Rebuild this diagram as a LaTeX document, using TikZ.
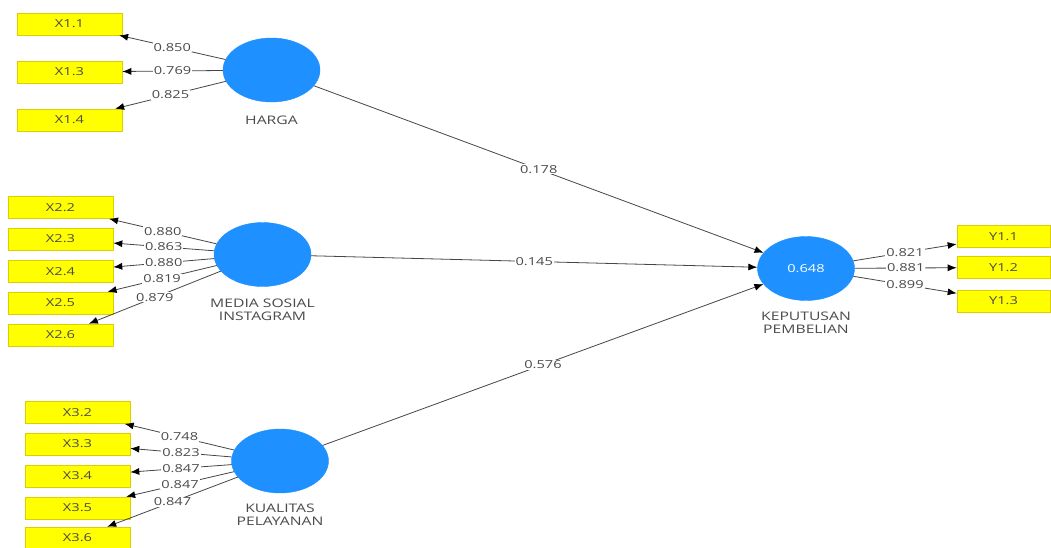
\documentclass[tikz,border=0pt]{standalone}
\usepackage{fontspec}
\setmainfont[FakeStretch=1.33]{Open Sans}
\usetikzlibrary{arrows.meta,shapes.geometric}
\definecolor{lv}{RGB}{30,144,255}
\definecolor{ind}{RGB}{255,255,0}
\definecolor{indb}{RGB}{222,205,0}
\definecolor{ln}{RGB}{70,70,70}
\definecolor{tx}{RGB}{75,75,75}
\begin{document}
\begin{tikzpicture}[x=1pt,y=-1pt,
  indbox/.style={rectangle,fill=ind,draw=indb,line width=0.6pt,minimum width=105pt,minimum height=22pt,inner sep=0pt,font=\fontsize{11}{12}\selectfont,text=tx},
  ybox/.style={indbox,minimum width=93pt},
  lvar/.style={ellipse,fill=lv,draw=lv,minimum width=97pt,minimum height=64pt,inner sep=0pt,font=\fontsize{11}{12}\selectfont,text=white},
  lvname/.style={align=center,font=\fontsize{11.8}{13.3}\selectfont,text=tx,inner sep=0pt},
  conn/.style={draw=ln,line width=0.8pt,-{Latex[length=9pt,width=7pt,color=black]}},
  lbl/.style={fill=white,inner sep=1pt,font=\fontsize{11}{12}\selectfont,text=tx}]
\useasboundingbox[fill=white] (0,0) rectangle (1051,547);

% indicators
\node[indbox] (x11) at (69.5,24) {X1.1};
\node[indbox] (x13) at (69.5,72) {X1.3};
\node[indbox] (x14) at (69.5,120) {X1.4};

\node[indbox] (x22) at (60.5,207.5) {X2.2};
\node[indbox] (x23) at (60.5,239) {X2.3};
\node[indbox] (x24) at (60.5,271.5) {X2.4};
\node[indbox] (x25) at (60.5,303) {X2.5};
\node[indbox] (x26) at (60.5,335) {X2.6};

\node[indbox] (x32) at (77.5,412.5) {X3.2};
\node[indbox] (x33) at (77.5,444) {X3.3};
\node[indbox] (x34) at (77.5,476) {X3.4};
\node[indbox] (x35) at (77.5,508) {X3.5};
\node[indbox] (x36) at (77.5,538) {X3.6};

\node[ybox] (y11) at (1003.5,236.5) {Y1.1};
\node[ybox] (y12) at (1003.5,267.5) {Y1.2};
\node[ybox] (y13) at (1003.5,301) {Y1.3};

% latent variables
\node[lvar] (harga) at (271.5,70) {};
\node[lvar] (media) at (262.5,254.5) {};
\node[lvar] (kual) at (280,461) {};
\node[lvar] (kep) at (806,268.5) {0.648};

\node[lvname] (hargaN) at (271.5,120) {HARGA};
\node[lvname] (mediaN) at (262.5,310) {MEDIA SOSIAL\\INSTAGRAM};
\node[lvname] (kualN) at (280,515) {KUALITAS\\PELAYANAN};
\node[lvname] (kepN) at (806,323) {KEPUTUSAN\\PEMBELIAN};

% connectors
\foreach \a/\b in {harga/x11,harga/x13,harga/x14,
  media/x22,media/x23,media/x24,media/x25,media/x26,
  kual/x32,kual/x33,kual/x34,kual/x35,kual/x36,
  kep/y11,kep/y12,kep/y13,
  harga/kep,media/kep,kual/kep}
  \draw[conn] (\a) -- (\b);

% labels
\foreach \a/\b/\v in {harga/x11/0.850,harga/x13/0.769,harga/x14/0.825,
  media/x22/0.880,media/x23/0.863,media/x24/0.880,media/x25/0.819,media/x26/0.879,
  kual/x32/0.748,kual/x33/0.823,kual/x34/0.847,kual/x35/0.847,kual/x36/0.847,
  kep/y11/0.821,kep/y12/0.881,kep/y13/0.899,
  harga/kep/0.178,media/kep/0.145,kual/kep/0.576}
  \path (\a) -- (\b) node[lbl,midway] {\v};
\end{tikzpicture}
\end{document}
